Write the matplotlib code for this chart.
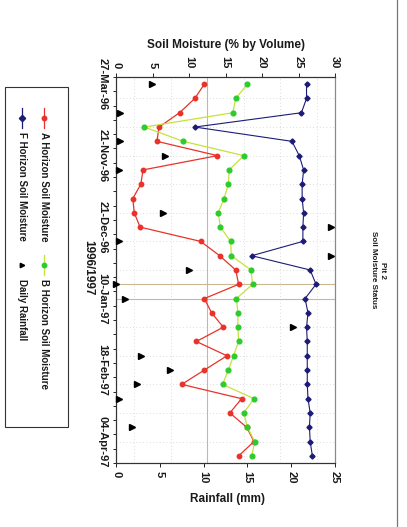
import numpy as np
import matplotlib
matplotlib.use("Agg")
import matplotlib.pyplot as plt

plt.rcParams['font.family'] = ['Liberation Sans', 'DejaVu Sans']

# Sampling dates shown on the category axis (every fifth sample is labelled)
date_labels = ["27-Mar-96", "21-Nov-96", "21-Dec-96", "10-Jan-97", "18-Feb-97", "04-Apr-97"]

# Soil moisture (% by volume) per sampling occasion
a_horizon = [12.1, 10.8, 8.7, 5.9, 5.6, 13.9, 3.7, 3.4, 2.3, 2.5, 3.3, 11.6, 14.2, 16.4,
             16.8, 12.1, 13.1, 14.7, 11.0, 15.2, 12.1, 9.0, 17.2, 15.6, 17.9, 18.9, 16.8]
b_horizon = [18.0, 16.4, 16.0, 3.9, 9.2, 17.5, 15.5, 15.4, 14.8, 14.0, 14.3, 15.7, 15.8, 18.5,
             18.7, 16.5, 16.7, 16.7, 16.8, 16.1, 15.4, 14.6, 18.9, 17.5, 18.0, 19.0, 18.6]
f_horizon = [26.1, 26.1, 25.4, 10.8, 24.1, 25.1, 25.7, 25.5, 25.5, 25.7, 25.6, 25.6, 18.6, 26.6,
             27.4, 25.9, 26.3, 26.1, 26.2, 26.2, 26.2, 26.2, 26.3, 26.6, 26.5, 26.6, 26.9]

# Daily rainfall (mm); nan where no reading was recorded
nan = np.nan
rainfall = [4.1, nan, 0.4, nan, 0.4, 5.6, 0.3, nan, nan, 5.4, 24.6, 0.3, 24.6, 8.3,
            0.0, 1.0, nan, 20.2, nan, 2.9, 6.2, 2.4, 0.3, nan, 1.8, nan, nan]

RED = "#e8322a"
GREEN_LINE = "#c6e23a"
GREEN_MK = "#2ccc2c"
NAVY = "#1c1c78"
TEXT = "#1a1a1a"

W, H = 407, 527
fig = plt.figure(figsize=(W / 100, H / 100), dpi=100)
fig.patch.set_facecolor("white")

n = len(a_horizon)
cats = np.arange(n)

# plot rectangle (pixels)
px0, px1, py0, py1 = 116, 335, 77, 463
ax = fig.add_axes([px0 / W, 1 - py1 / H, (px1 - px0) / W, (py1 - py0) / H])
ax2 = ax.twiny()

ax.set_xlim(0, 30)
ax.set_ylim(n - 0.5, -0.5)
ax2.set_xlim(0, 25)

# light dotted grid
for v in np.arange(2.5, 30, 5):
    ax.axvline(v, color="#d0d0d0", lw=0.6, ls=(0, (1, 3)), zorder=0)
for c in range(1, n, 2):
    ax.axhline(c, color="#d0d0d0", lw=0.6, ls=(0, (1, 3)), zorder=0)

# crosshair lines
ax.axvline(12.5, color="#cdb792", lw=0.8, zorder=1)
ax.axhline(14, color="#cdb792", lw=0.8, zorder=1)
ax.axhline(15, color="#cdb792", lw=0.8, zorder=1)

ax.plot(a_horizon, cats, color=RED, lw=0.9, marker="o", ms=3.2, mfc=RED, mec=RED, zorder=3)
ax.plot(b_horizon, cats, color=GREEN_LINE, lw=0.9, marker="o", ms=3.4, mfc=GREEN_MK, mec=GREEN_MK, zorder=3)
ax.plot(f_horizon, cats, color=NAVY, lw=0.8, marker="D", ms=2.6, mfc=NAVY, mec=NAVY, zorder=3)
ax2.plot(rainfall, cats, ls="none", marker=">", ms=4.8, color="black", clip_on=False, zorder=4)

# soil moisture scale on top
ax.set_xticks(np.arange(0, 31, 5))
ax.xaxis.set_ticks_position("top")
ax.tick_params(axis="x", which="major", top=True, bottom=False, labeltop=True, labelbottom=False,
               direction="out", length=3, width=0.6, pad=3, labelsize=8, labelrotation=-90,
               labelcolor=TEXT)
for t in ax.get_xticklabels():
    t.set_fontweight("bold")

# rainfall scale at the bottom
ax2.set_xticks(np.arange(0, 26, 5))
ax2.xaxis.set_ticks_position("bottom")
ax2.tick_params(axis="x", which="major", top=False, bottom=True, labeltop=False, labelbottom=True,
                direction="out", length=3, width=0.6, pad=3, labelsize=8, labelrotation=-90,
                labelcolor=TEXT)
for t in ax2.get_xticklabels():
    t.set_fontweight("bold")

# date category axis on the left
ax.set_yticks(cats[::5])
ax.set_yticklabels(date_labels, rotation=-90, va="center", fontsize=8, fontweight="bold", color=TEXT)
ax.set_yticks(np.arange(-0.5, n, 1), minor=True)
ax.tick_params(axis="y", which="major", length=0, pad=6)
ax.tick_params(axis="y", which="minor", length=2.5, width=0.6, direction="out")

for a in (ax, ax2):
    for s in a.spines.values():
        s.set_linewidth(0.8)
        s.set_color("#333333")
ax.spines["right"].set_color("#888888")
ax2.spines["right"].set_color("#888888")

# overlay in pixel coordinates for titles, legend and frame
lay = fig.add_axes([0, 0, 1, 1], zorder=-1)
lay.set_xlim(0, W)
lay.set_ylim(H, 0)
lay.axis("off")

lay.text(226, 45, "Soil Moisture (% by Volume)", ha="center", va="center", fontsize=8.5,
         fontweight="bold", color=TEXT)
lay.text(228, 499, "Rainfall (mm)", ha="center", va="center", fontsize=8.5, fontweight="bold", color=TEXT)
lay.text(88, 268, "1996/1997", ha="center", va="center", rotation=-90, fontsize=8.5,
         fontweight="bold", color=TEXT)
lay.text(378, 270, "Pit 2\nSoil Moisture Status", ha="center", va="center", rotation=-90,
         fontsize=5.8, fontweight="bold", multialignment="center", linespacing=1.35, color=TEXT)

# chart frame edge
lay.plot([397, 397], [0, H], color="#777777", lw=0.9)

# legend
lay.add_patch(plt.Rectangle((5, 87), 63, 340, fill=False, ec="#333333", lw=0.8))
items = [
    (44, 118, RED, RED, "o", "A Horizon Soil Moisture", True),
    (44, 265, GREEN_LINE, GREEN_MK, "o", "B Horizon Soil Moisture", True),
    (22, 118, NAVY, NAVY, "D", "F Horizon Soil Moisture", True),
    (22, 265, None, "black", ">", "Daily Rainfall", False),
]
for x, y, lc, mc, mk, label, has_line in items:
    if has_line:
        lay.plot([x, x], [y - 10, y + 10], color=lc, lw=0.9)
    lay.plot([x], [y], marker=mk, ms=3.2, color=mc, ls="none")
    lay.text(x, y + 14, label, ha="center", va="top", rotation=-90, fontsize=7,
             fontweight="bold", color=TEXT)

fig.savefig("out.png", dpi=100, facecolor="white")
